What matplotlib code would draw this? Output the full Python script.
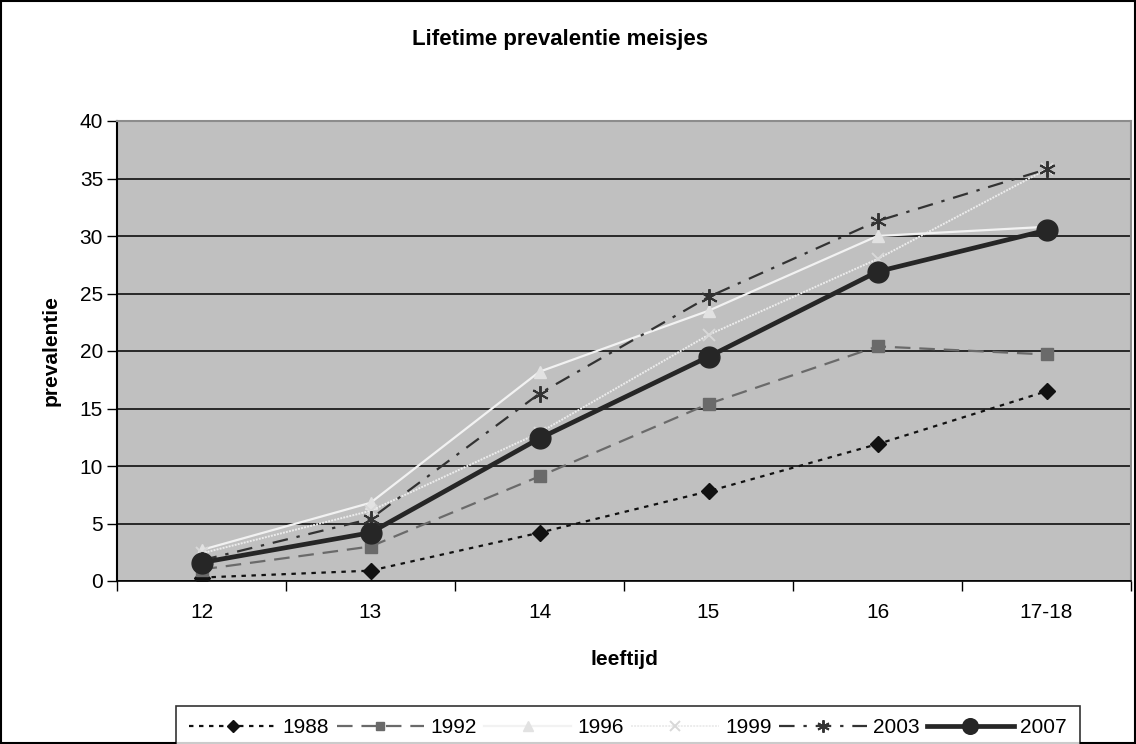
import numpy as np
import matplotlib.pyplot as plt
from matplotlib.ticker import FixedLocator, NullFormatter

plt.rcParams['font.family'] = ['Liberation Sans', 'DejaVu Sans']

ages = ['12', '13', '14', '15', '16', '17-18']
y1988 = [0.3, 0.9, 4.2, 7.8, 11.9, 16.5]
y1992 = [1.0, 3.0, 9.1, 15.4, 20.4, 19.7]
y1996 = [2.7, 6.8, 18.2, 23.5, 30.0, 30.8]
y1999 = [2.4, 6.1, 12.9, 21.4, 28.0, 35.8]
y2003 = [1.8, 5.4, 16.3, 24.7, 31.3, 35.8]
y2007 = [1.6, 4.2, 12.4, 19.5, 26.9, 30.5]

FS = 15

fig = plt.figure(figsize=(11.36, 7.44), dpi=100)
ax = fig.add_axes([117 / 1136, 1 - 581 / 744, (1131 - 117) / 1136, (581 - 121) / 744])
ax.set_facecolor('#c0c0c0')

x = np.arange(len(ages))

ax.plot(x, y1988, color='#111111', ls=(0, (2, 2.5)), lw=1.6, marker='D', ms=8,
        mfc='#111111', mec='#111111', label='1988', zorder=3)
ax.plot(x, y1992, color='#6a6a6a', ls=(0, (7, 4)), lw=1.6, marker='s', ms=8.5,
        mfc='#6a6a6a', mec='#6a6a6a', label='1992', zorder=3)
ax.plot(x, y1996, color='#f2f2f2', ls='-', lw=1.6, marker='^', ms=9,
        mfc='#e2e2e2', mec='#e2e2e2', label='1996', zorder=3)
ax.plot(x, y1999, color='#ececec', ls=(0, (1, 0.6)), lw=1.4, marker='x', ms=9,
        mew=1.4, mfc='#d8d8d8', mec='#d8d8d8', label='1999', zorder=3)
ax.plot(x, y2003, color='#333333', ls=(0, (7, 4, 1.5, 4)), lw=1.6, marker=(6, 2, 0), ms=12,
        mew=1.4, mec='#333333', label='2003', zorder=3)
ax.plot(x, y2007, color='#262626', ls='-', lw=3.4, marker='o', ms=15,
        mfc='#262626', mec='#262626', label='2007', zorder=4)

ax.set_xlim(-0.5, len(ages) - 0.5)
ax.set_ylim(0, 40)
ax.set_yticks(np.arange(0, 41, 5))
ax.yaxis.grid(True, color='black', lw=1.1)
ax.set_axisbelow(True)

ax.set_xticks(x)
ax.set_xticklabels(ages, fontsize=FS)
ax.tick_params(axis='x', which='major', length=0, pad=16)
ax.xaxis.set_minor_locator(FixedLocator(np.arange(-0.5, len(ages), 1.0)))
ax.xaxis.set_minor_formatter(NullFormatter())
ax.tick_params(axis='x', which='minor', length=7, color='black', width=1)
ax.tick_params(axis='y', labelsize=FS, length=7, width=1, color='black', pad=3)

for s in ['top', 'right']:
    ax.spines[s].set_color('#8c8c8c')
    ax.spines[s].set_linewidth(1.5)
ax.spines['left'].set_color('black')
ax.spines['left'].set_linewidth(1.5)
ax.spines['bottom'].set_color('black')
ax.spines['bottom'].set_linewidth(1.2)

ax.set_xlabel('leeftijd', fontsize=FS, fontweight='bold', labelpad=20)
ax.set_ylabel('prevalentie', fontsize=FS, fontweight='bold', labelpad=14)
fig.text(560 / 1136, 1 - 40 / 744, 'Lifetime prevalentie meisjes',
         ha='center', va='center', fontsize=16, fontweight='bold')

leg = fig.legend(loc='lower center', bbox_to_anchor=(628 / 1136, -0.008), ncol=6,
                 frameon=True, fancybox=False, fontsize=FS, handlelength=4.2,
                 handletextpad=0.3, columnspacing=0.35, borderpad=0.6,
                 borderaxespad=0, markerscale=0.75)
leg.get_frame().set_edgecolor('black')
leg.get_frame().set_linewidth(1.2)

fig.patches.append(plt.Rectangle((0.001, 0.001), 0.998, 0.998, transform=fig.transFigure,
                                 fill=False, edgecolor='black', lw=1.5))

fig.savefig('out.png', dpi=100)
